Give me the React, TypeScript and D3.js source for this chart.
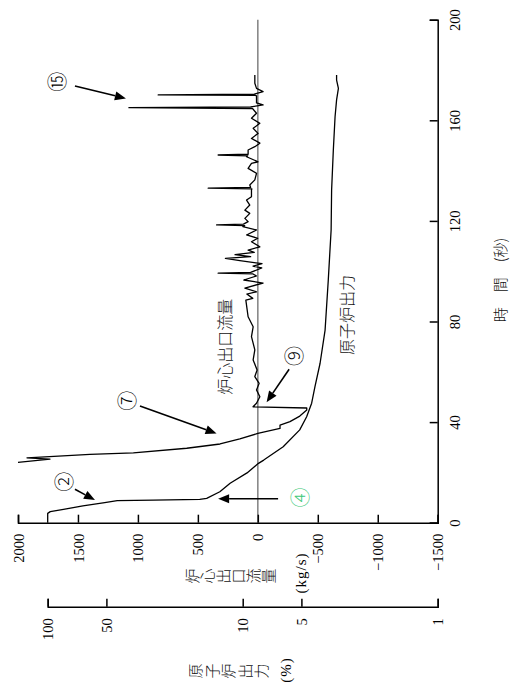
import React, { useEffect, useRef } from "react";
import * as d3 from "d3";

// ---- axis ticks ----
const timeTicks = [0, 40, 80, 120, 160, 200];
const flowTicks = [2000, 1500, 1000, 500, 0, -500, -1000, -1500];
const powerTicks = [100, 50, 10, 5, 1];

// ---- reactor power (%) vs time (s) ----
const powerTime = [0, 3.7, 4.4, 5.3, 6.7, 8.0, 8.75, 9.0, 9.3, 9.7, 12.3, 15.7, 19.8, 23.6, 24.9, 30.2, 36.9, 42.1, 47.5, 54.1, 63.4, 76.6, 96.5, 116.4, 132.2, 148.1, 161.4, 168.1, 172.7, 176.0, 178.0];
const powerValue = [100, 100, 97, 83, 66, 51, 44, 28.7, 16.6, 15.3, 13.1, 11.6, 9.5, 8.3, 7.8, 6.2, 5.1, 4.7, 4.43, 4.26, 4.01, 3.78, 3.64, 3.52, 3.5, 3.43, 3.36, 3.3, 3.23, 3.3, 3.3];

// ---- core outlet flow (kg/s) vs time (s) ----
const flowTime = [
  24.0, 25.3, 25.8, 27.2, 27.8, 29.6, 31.3, 33.3, 35.5, 37.5, 38.8, 40.2, 42.4, 44.8, 45.6, 46.1,
  47.5, 50.1, 52.8, 55.4, 58.1, 60.7, 64.7, 68.7, 74.0, 77.9, 81.9, 88.5, 89.2, 90.9, 91.8, 93.3,
  95.3, 96.5, 98.1, 98.9, 99.2, 99.5, 101.3, 102.0, 103.0, 104.2, 105.1, 105.8, 106.6, 107.5, 108.4,
  109.7, 111.7, 113.1, 114.4, 116.4, 117.7, 118.1, 118.4, 118.7, 119.7, 121.0, 123.0, 124.3, 126.3,
  128.3, 129.6, 132.3, 132.7, 133.0, 133.3, 134.3, 136.3, 138.9, 140.9, 142.9, 143.5, 145.5, 145.9,
  146.2, 146.5, 148.2, 149.5, 150.9, 152.8, 154.8, 156.8, 158.8, 160.8, 162.8, 164.4, 164.7, 165.0,
  165.3, 166.1, 166.9, 169.7, 169.9, 170.1, 170.4, 171.4, 172.7, 174.7, 178.0
];
const flowValue = [
  2000, 1733, 1925, 1400, 1038, 593, 315, 150, 0, -185, -185, -268, -350, -408, -408, 40,
  11, -17, 11, -11, 25, 6, 39, 25, 53, 39, 81, 100, 42, 92, 11, 108,
  -44, 117, 11, 40, 331, 60, -33, 40, -35, 150, 270, 60, 190, 30, 81,
  -17, 53, 0, 94, 11, 125, 110, 344, 120, 81, 108, 67, 108, 67,
  94, 53, 53, 50, 414, 60, 67, 25, 11, 81, 53, -2, 94, 85,
  331, 81, 81, 25, -17, 53, -2, 39, -17, 53, 11, 39, 45, 1075,
  60, -44, 11, 11, 20, 831, 30, -44, 11, 25, 25
];

// ---- annotations (time s, flow kg/s) ----
const markLabels = ["②", "④", "⑦", "⑨", "⑮"];
const markTime = [16.3, 10.0, 48.5, 66.3, 175.3];
const markFlow = [1608, -358, 1081, -308, 1664];
const markColor = ["#000", "#3cc878", "#000", "#000", "#000"];
const arrowFromTime = [13.3, 9.5, 46.4, 61.0, 173.6];
const arrowFromFlow = [1525, -169, 983, -261, 1525];
const arrowToTime = [9.0, 9.5, 35.5, 47.9, 168.7];
const arrowToFlow = [1358, 331, 344, -73, 1100];

const flowLabel = "炉心出口流量";
const powerLabel = "原子炉出力";

export default function App() {
  const ref = useRef<SVGSVGElement>(null);

  useEffect(() => {
    const svg = d3.select(ref.current);
    svg.selectAll("*").remove();

    const serif = "'Liberation Serif','Times New Roman',serif";
    const cjk = "'Noto Sans CJK JP','Noto Sans CJK SC',sans-serif";

    const yT = d3.scaleLinear().domain([0, 200]).range([522.7, 19.7]);
    const xF = d3.scaleLinear().domain([2000, -1500]).range([18, 437.7]);
    const xP = d3.scaleLog().domain([100, 1]).range([47.7, 437.7]);

    // zero flow line
    svg.append("line")
      .attr("x1", xF(0)).attr("x2", xF(0))
      .attr("y1", yT(200)).attr("y2", yT(0))
      .attr("stroke", "#808080").attr("stroke-width", 1.5);

    const styleAxis = (g: any) => {
      g.select(".domain").attr("stroke", "#000").attr("stroke-width", 1.5);
      g.selectAll(".tick line").attr("stroke", "#000").attr("stroke-width", 1.5);
      g.selectAll(".tick text").attr("fill", "#000")
        .attr("font-family", serif).attr("font-size", 14.5);
    };

    // flow axis (bottom)
    const gF = svg.append("g").attr("transform", `translate(0,${yT(0)})`)
      .call(d3.axisBottom(xF).tickValues(flowTicks).tickSizeInner(-8).tickSizeOuter(-8).tickFormat(d3.format("d")) as any);
    styleAxis(gF);
    gF.selectAll(".tick text")
      .attr("transform", "rotate(-90)").attr("text-anchor", "end")
      .attr("x", -11).attr("y", 0).attr("dy", "0.35em");

    // power axis (log)
    const gP = svg.append("g").attr("transform", `translate(0,606.7)`)
      .call(d3.axisBottom(xP).tickValues(powerTicks).tickSizeInner(-8).tickSizeOuter(-8).tickFormat(d3.format("d")) as any);
    styleAxis(gP);
    gP.selectAll(".tick text")
      .attr("transform", "rotate(-90)").attr("text-anchor", "end")
      .attr("x", -11.5).attr("y", 0).attr("dy", "0.35em");

    // time axis (right)
    const gT = svg.append("g").attr("transform", `translate(${xF(-1500)},0)`)
      .call(d3.axisRight(yT).tickValues(timeTicks).tickSizeInner(-8).tickSizeOuter(-8).tickFormat(d3.format("d")) as any);
    styleAxis(gT);
    gT.selectAll(".tick text")
      .attr("transform", "translate(17.3,0) rotate(-90)").attr("text-anchor", "middle")
      .attr("x", 0).attr("y", 0).attr("dy", "0.35em");

    // curves
    const powerPts = powerTime.map((t, i) => [t, powerValue[i]] as [number, number]);
    const flowPts = flowTime.map((t, i) => [t, flowValue[i]] as [number, number]);
    const linePow = d3.line<[number, number]>().x(d => xP(d[1])).y(d => yT(d[0])).curve(d3.curveLinear);
    const lineFlow = d3.line<[number, number]>().x(d => xF(d[1])).y(d => yT(d[0])).curve(d3.curveLinear);

    svg.append("path").attr("d", linePow(powerPts) as string)
      .attr("fill", "none").attr("stroke", "#000").attr("stroke-width", 1.3).attr("stroke-linejoin", "round");
    svg.append("path").attr("d", lineFlow(flowPts) as string)
      .attr("fill", "none").attr("stroke", "#000").attr("stroke-width", 1.3).attr("stroke-linejoin", "round");

    // annotations
    markLabels.forEach((lab, i) => {
      const cx = xF(markFlow[i]), cy = yT(markTime[i]);
      svg.append("text").text(lab)
        .attr("transform", `translate(${cx},${cy}) rotate(-90)`)
        .attr("text-anchor", "middle").attr("dy", "0.36em")
        .attr("font-family", cjk).attr("font-weight", 300).attr("font-size", 20).attr("fill", markColor[i]);
      const x1 = xF(arrowFromFlow[i]), y1 = yT(arrowFromTime[i]);
      const x2 = xF(arrowToFlow[i]), y2 = yT(arrowToTime[i]);
      const dx = x2 - x1, dy = y2 - y1, len = Math.hypot(dx, dy);
      const ux = dx / len, uy = dy / len;
      const hl = 11, hw = 4.5;
      const bx = x2 - ux * hl, by = y2 - uy * hl;
      svg.append("line").attr("x1", x1).attr("y1", y1).attr("x2", bx).attr("y2", by)
        .attr("stroke", "#000").attr("stroke-width", 1.6);
      svg.append("polygon")
        .attr("points", `${x2},${y2} ${bx - uy * hw},${by + ux * hw} ${bx + uy * hw},${by - ux * hw}`)
        .attr("fill", "#000");
    });

    // in-plot labels
    svg.append("text").text(flowLabel)
      .attr("transform", `translate(${xF(271)},${yT(70)}) rotate(-90)`)
      .attr("text-anchor", "middle").attr("dy", "0.35em")
      .attr("font-family", cjk).attr("font-weight", 300).attr("font-size", 16).attr("fill", "#111");
    svg.append("text").text(powerLabel)
      .attr("transform", `translate(${xF(-746)},${yT(82.6)}) rotate(-90)`)
      .attr("text-anchor", "middle").attr("dy", "0.35em")
      .attr("font-family", cjk).attr("font-weight", 300).attr("font-size", 16).attr("fill", "#111");

    // axis titles (glyphs rotated, laid left to right)
    const glyphRow = (s: string, x0: number, pitch: number, y: number, size: number) => {
      Array.from(s).forEach((ch, i) => {
        svg.append("text").text(ch)
          .attr("transform", `translate(${x0 + pitch / 2 + i * pitch},${y}) rotate(-90)`)
          .attr("text-anchor", "middle").attr("dy", "0.35em")
          .attr("font-family", cjk).attr("font-weight", 300).attr("font-size", size).attr("fill", "#111");
      });
    };
    glyphRow(flowLabel, 185, 15.3, 576, 15);
    glyphRow(powerLabel, 188, 16.4, 671, 15);

    svg.append("text").text("(kg/s)")
      .attr("transform", `translate(300.5,573) rotate(-90)`)
      .attr("text-anchor", "middle").attr("dy", "0.35em")
      .attr("font-family", serif).attr("font-size", 15).attr("letter-spacing", 1).attr("fill", "#000");
    svg.append("text").text("(%)")
      .attr("transform", `translate(286,670) rotate(-90)`)
      .attr("text-anchor", "middle").attr("dy", "0.35em")
      .attr("font-family", serif).attr("font-size", 15).attr("letter-spacing", 1).attr("fill", "#000");
    svg.append("text").text("時　間　(秒)")
      .attr("transform", `translate(501,280) rotate(-90)`)
      .attr("text-anchor", "middle").attr("dy", "0.35em")
      .attr("font-family", cjk).attr("font-weight", 300).attr("font-size", 15).attr("fill", "#111");
  }, []);

  return (
    <svg ref={ref} width={510} height={690}
      style={{ position: "absolute", left: 0, top: 0, background: "#fff" }} />
  );
}
